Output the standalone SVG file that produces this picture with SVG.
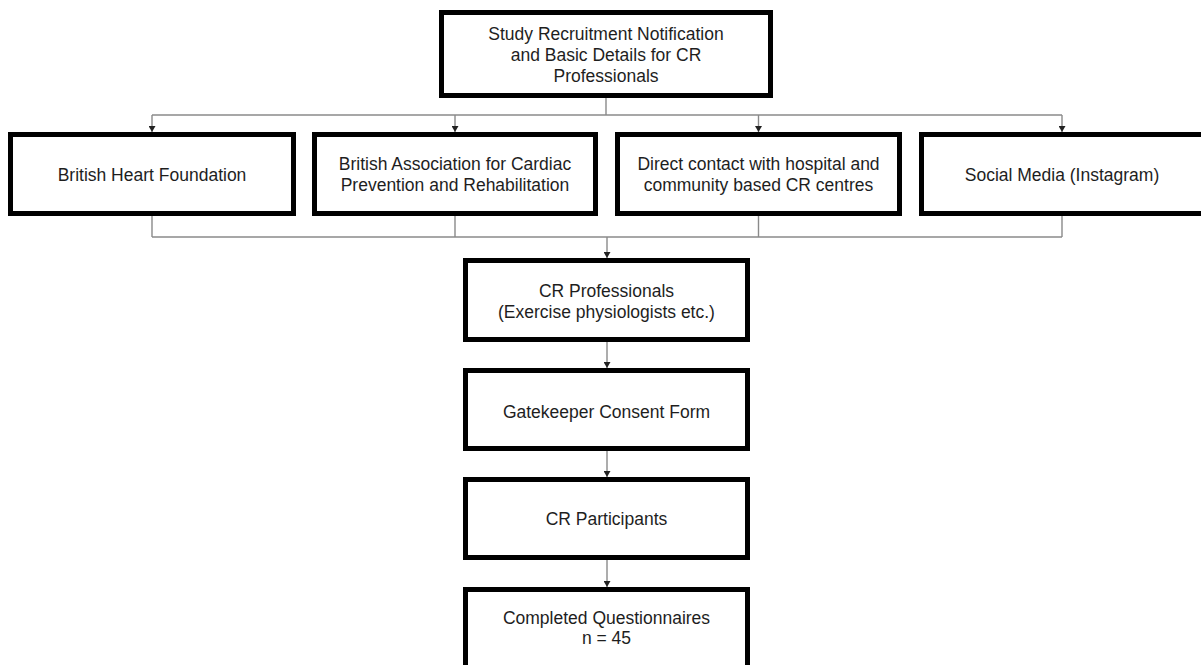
<svg xmlns="http://www.w3.org/2000/svg" width="1201" height="665" viewBox="0 0 1201 665">
  <defs>
    <!-- small filled arrowhead, drawn along +x so orient="auto" points it down the line -->
    <marker id="arrow" markerUnits="userSpaceOnUse" markerWidth="7" markerHeight="7" refX="6" refY="3.5" orient="auto" viewBox="0 0 7 7">
      <path d="M0,0 L6,3.5 L0,7 Z" fill="#222"/>
    </marker>
    <style>
      .box { fill: #ffffff; stroke: #000000; stroke-width: 5; }
      .label { font-family: "Liberation Sans", Arial, sans-serif; font-size: 17.5px; fill: #1e1e1e; text-anchor: middle; }
      .wire { fill: none; stroke: #8a8a8a; stroke-width: 1.4; }
    </style>
  </defs>

  <rect width="1201" height="665" fill="#ffffff"/>

  <!-- connectors -->
  <g id="connectors">
    <!-- fan-out from the notification box -->
    <path class="wire" d="M606,98 V115 M152,115 H1062"/>
    <path class="wire" d="M152,115 V132" marker-end="url(#arrow)"/>
    <path class="wire" d="M455,115 V132" marker-end="url(#arrow)"/>
    <path class="wire" d="M758.5,115 V132" marker-end="url(#arrow)"/>
    <path class="wire" d="M1062,115 V132" marker-end="url(#arrow)"/>
    <!-- fan-in to CR professionals -->
    <path class="wire" d="M152,216 V237 M455,216 V237 M758.5,216 V237 M1062,216 V237 M152,237 H1062"/>
    <path class="wire" d="M607,237 V258" marker-end="url(#arrow)"/>
    <!-- vertical chain -->
    <path class="wire" d="M607,342 V368" marker-end="url(#arrow)"/>
    <path class="wire" d="M607,451 V477" marker-end="url(#arrow)"/>
    <path class="wire" d="M607,560 V587" marker-end="url(#arrow)"/>
  </g>

  <g id="notification">
    <rect class="box" x="441.5" y="12.5" width="329" height="83"/>
    <text class="label" x="606" y="40">Study Recruitment Notification</text>
    <text class="label" x="606" y="61">and Basic Details for CR</text>
    <text class="label" x="606" y="82">Professionals</text>
  </g>

  <g id="bhf">
    <rect class="box" x="10.5" y="134.5" width="283" height="79"/>
    <text class="label" x="152" y="181">British Heart Foundation</text>
  </g>

  <g id="bacpr">
    <rect class="box" x="314.5" y="134.5" width="281" height="79"/>
    <text class="label" x="455" y="170">British Association for Cardiac</text>
    <text class="label" x="455" y="191">Prevention and Rehabilitation</text>
  </g>

  <g id="direct-contact">
    <rect class="box" x="617.5" y="134.5" width="282" height="79"/>
    <text class="label" x="758.5" y="170">Direct contact with hospital and</text>
    <text class="label" x="758.5" y="191">community based CR centres</text>
  </g>

  <g id="social-media">
    <rect class="box" x="921.5" y="134.5" width="283" height="79"/>
    <text class="label" x="1062" y="181">Social Media (Instagram)</text>
  </g>

  <g id="cr-professionals">
    <rect class="box" x="465.5" y="260.5" width="282" height="79"/>
    <text class="label" x="606.5" y="297">CR Professionals</text>
    <text class="label" x="606.5" y="318">(Exercise physiologists etc.)</text>
  </g>

  <g id="gatekeeper">
    <rect class="box" x="465.5" y="370.5" width="282" height="78"/>
    <text class="label" x="606.5" y="418">Gatekeeper Consent Form</text>
  </g>

  <g id="cr-participants">
    <rect class="box" x="465.5" y="479.5" width="282" height="78"/>
    <text class="label" x="606.5" y="525">CR Participants</text>
  </g>

  <g id="completed">
    <rect class="box" x="465.5" y="589.5" width="282" height="80"/>
    <text class="label" x="606.5" y="624">Completed Questionnaires</text>
    <text class="label" x="606.5" y="644">n = 45</text>
  </g>
</svg>
